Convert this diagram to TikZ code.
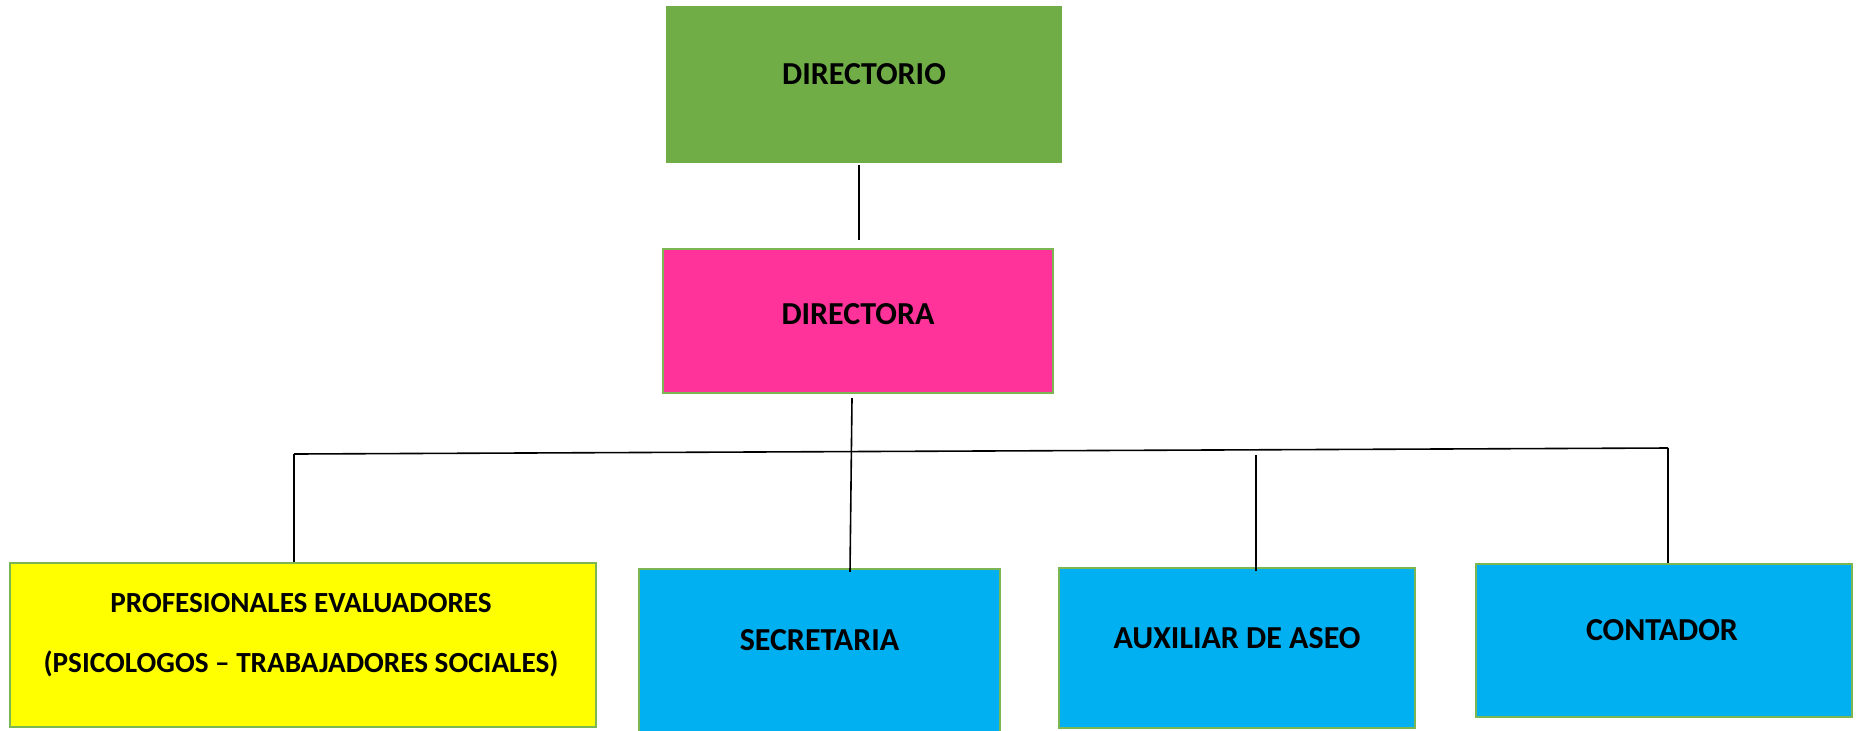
\documentclass[tikz,border=0pt]{standalone}
\usepackage{fontspec}
\setmainfont{Carlito}
\usetikzlibrary{calc}
\definecolor{verde}{HTML}{70AD47}
\definecolor{rosa}{HTML}{FF3399}
\definecolor{amarillo}{HTML}{FFFF00}
\definecolor{celeste}{HTML}{00B0F0}
\definecolor{borde}{HTML}{7CB654}

\begin{document}
\begin{tikzpicture}[x=0.5pt,y=-0.5pt,
    cargo/.style={draw=borde, line width=1.2pt, inner sep=0pt},
    txt/.style={font=\fontsize{16}{18}\selectfont\bfseries},
    linea/.style={line width=0.8pt, black}]
      \useasboundingbox (0,0) rectangle (1859,730);
      \node (directorio) at (864,84.5) [cargo, draw=verde, fill=verde, minimum width=197pt, minimum height=77.5pt,
        label={[txt,yshift=5.25pt]center:DIRECTORIO}] {};
      \node (directora) at (858,321) [cargo, fill=rosa, minimum width=195pt, minimum height=72pt,
        label={[txt,yshift=3.5pt]center:DIRECTORA}] {};
      \node (profesionales) at (303,645) [cargo, fill=amarillo, minimum width=293pt, minimum height=82pt,
        label={[font=\fontsize{14.6}{30}\selectfont\bfseries, align=center, xshift=-1pt, yshift=5pt]center:PROFESIONALES EVALUADORES\\(PSICOLOGOS – TRABAJADORES SOCIALES)}] {};
      \node (secretaria) at (819.5,652) [cargo, fill=celeste, minimum width=180.5pt, minimum height=83pt,
        label={[txt,yshift=6pt]center:SECRETARIA}] {};
      \node (auxiliar) at (1237,648) [cargo, fill=celeste, minimum width=178pt, minimum height=80pt,
        label={[txt,yshift=5pt]center:AUXILIAR DE ASEO}] {};
      \node (contador) at (1664,640.5) [cargo, fill=celeste, minimum width=188pt, minimum height=76.5pt,
        label={[txt,xshift=-1pt,yshift=5pt]center:CONTADOR}] {};
      \coordinate (izq) at (294,454);
      \coordinate (der) at (1668,448);
      \coordinate (baux) at (1256,455);
      \draw[linea, shorten <=1pt, shorten >=4pt]
      ([xshift=-2.5pt]directorio.south) to ([xshift=-2.5pt]directorio.south |- directora.north);
      \draw[linea]
      ([xshift=-3pt,yshift=-2pt]directora.south) to ([xshift=15.25pt,yshift=-2pt]secretaria.north);
      \draw[linea]
      (izq) to (der)
      (izq) to (izq |- profesionales.north)
      (der) to (der |- contador.north);
      \draw[linea, shorten >=-2pt] (baux) to (baux |- auxiliar.north);
    \end{tikzpicture}
\end{document}
